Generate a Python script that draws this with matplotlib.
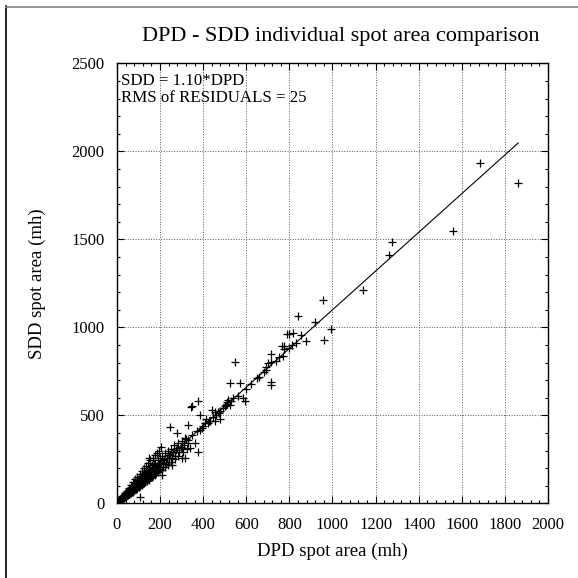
import matplotlib
matplotlib.use("Agg")
import matplotlib.pyplot as plt
from matplotlib.lines import Line2D
from matplotlib.ticker import MultipleLocator

plt.rcParams['font.family'] = ['Liberation Serif', 'DejaVu Serif']

# DPD spot area vs SDD spot area (mh)
dpd = [2, 3, 4, 5, 5, 6, 7, 8, 8, 9, 10, 10, 11, 12, 12, 13, 14, 15, 15, 16,
       17, 18, 18, 19, 20, 20, 21, 22, 22, 23, 24, 25, 25, 26, 27, 28, 29, 30, 30, 31,
       32, 33, 34, 35, 35, 36, 37, 38, 39, 40, 40, 41, 42, 43, 44, 45, 46, 47, 48, 49,
       50, 50, 52, 53, 54, 55, 56, 57, 58, 59, 60, 61, 62, 63, 64, 65, 66, 67, 68, 69,
       70, 71, 72, 73, 74, 75, 76, 77, 78, 79, 80, 81, 82, 83, 84, 85, 86, 87, 88, 89,
       90, 91, 92, 93, 94, 95, 96, 97, 98, 100, 100, 102, 104, 105, 106, 108, 109, 110, 112, 114,
       115, 117, 118, 120, 122, 124, 125, 127, 128, 130, 132, 134, 136, 138, 140, 142, 144, 146, 148, 150,
       152, 155, 157, 160, 162, 165, 168, 170, 173, 176, 178, 180, 184, 188, 190, 194, 198, 200, 205, 210,
       213, 218, 222, 226, 230, 235, 240, 245, 250, 255, 260, 265, 270, 275, 282, 288, 295, 300, 310, 320,
       330,
       107, 207, 192, 215, 150, 254, 254, 300, 316, 300, 339, 377, 362, 316, 331, 277, 385, 331, 246, 413,
       455, 478, 440, 455, 475, 385, 347, 344, 377, 517, 509, 524, 586, 594, 524, 571, 548, 648, 715, 715,
       690, 702, 690, 715, 713, 764, 776, 776, 769, 787, 799, 818, 852, 877, 962, 993, 919, 841, 957, 1143,
       1261, 1276, 1561, 1684, 1859,
       400, 420, 430, 445, 460, 470, 490, 500, 510, 530, 560, 600, 620, 660, 680, 740, 750, 800, 810, 830,
       15, 25, 35, 45, 55, 65, 75, 85, 95, 105, 115, 125, 135, 145, 155, 165, 175, 185, 195, 205,
       30, 42, 58, 72, 88, 102, 118, 132, 148, 162, 178, 192, 208, 222, 238, 252, 268, 285, 305, 325,
       60, 80, 100, 120, 140, 160, 180, 200, 220, 240, 260, 280, 350, 370, 395, 410, 425, 480, 505, 540]
sdd = [3, 4, 4, 6, 7, 6, 9, 8, 11, 10, 12, 14, 11, 15, 18, 14, 17, 16, 21, 19,
       22, 18, 25, 23, 21, 28, 26, 24, 31, 27, 29, 26, 35, 32, 30, 36, 33, 31, 42, 37,
       35, 44, 38, 36, 48, 42, 45, 40, 52, 46, 38, 55, 48, 44, 58, 50, 47, 60, 54, 51,
       64, 45, 58, 68, 55, 62, 72, 54, 65, 75, 60, 70, 80, 58, 72, 85, 66, 76, 90, 64,
       78, 95, 70, 82, 98, 68, 86, 100, 75, 90, 105, 78, 95, 110, 85, 100, 115, 80, 104, 118,
       92, 108, 125, 88, 112, 130, 98, 118, 135, 95, 122, 140, 105, 128, 148, 100, 132, 150, 112, 138,
       158, 108, 142, 165, 120, 148, 170, 118, 152, 175, 130, 158, 182, 128, 165, 190, 142, 170, 198, 140,
       176, 205, 150, 185, 215, 160, 195, 225, 168, 205, 232, 175, 212, 245, 185, 222, 260, 195, 235, 270,
       205, 245, 285, 225, 260, 295, 235, 275, 310, 255, 290, 330, 268, 305, 345, 290, 320, 355, 330, 365,
       345,
       38, 161, 208, 227, 256, 256, 218, 256, 256, 313, 313, 293, 341, 370, 360, 398, 417, 445, 436, 478,
       470, 478, 530, 521, 512, 502, 553, 549, 582, 587, 578, 559, 597, 583, 682, 682, 805, 711, 691, 673,
       758, 796, 777, 805, 849, 894, 894, 875, 837, 962, 962, 966, 955, 921, 928, 989, 1032, 1067, 1154, 1213,
       1413, 1485, 1546, 1936, 1819,
       440, 455, 470, 490, 500, 520, 540, 555, 565, 580, 610, 650, 680, 720, 745, 810, 830, 880, 900, 910,
       26, 40, 58, 72, 88, 104, 120, 136, 152, 166, 182, 198, 212, 228, 244, 258, 272, 288, 300, 318,
       30, 40, 52, 66, 80, 94, 106, 120, 134, 148, 162, 176, 190, 204, 220, 234, 250, 268, 290, 310,
       78, 100, 122, 144, 162, 184, 206, 228, 250, 272, 292, 314, 390, 410, 430, 455, 470, 525, 560, 600]

slope = 1.10
fit_x = [0, 1862]
fit_y = [slope * v for v in fit_x]

fig = plt.figure(figsize=(5.78, 5.78), dpi=100)
ax = fig.add_axes([0.2024, 0.1292, 0.7457, 0.761])

ax.plot(dpd, sdd, '+', color='black', markersize=6, markeredgewidth=0.9)
ax.plot(fit_x, fit_y, color='black', linewidth=0.8)

ax.set_xlim(0, 2000)
ax.set_ylim(0, 2500)
ax.xaxis.set_major_locator(MultipleLocator(200))
ax.xaxis.set_minor_locator(MultipleLocator(40))
ax.yaxis.set_major_locator(MultipleLocator(500))
ax.yaxis.set_minor_locator(MultipleLocator(100))
ax.tick_params(which='both', direction='in', top=True, right=True, labelsize=12)
ax.tick_params(which='major', length=5, width=0.8)
ax.tick_params(which='minor', length=2.5, width=0.8)
ax.tick_params(axis='x', pad=10)
ax.tick_params(axis='y', pad=9)
ax.grid(True, which='major', linestyle=':', color='#555555', linewidth=0.7)
for s in ax.spines.values():
    s.set_linewidth(1.0)

ax.set_title('DPD - SDD individual spot area comparison', fontsize=16, pad=16, x=0.52)
ax.set_xlabel('DPD spot area (mh)', fontsize=13.5, labelpad=7)
ax.set_ylabel('SDD spot area (mh)', fontsize=13.5, labelpad=18)

ax.text(0.01, 0.978, 'SDD = 1.10*DPD\nRMS of RESIDUALS = 25', transform=ax.transAxes,
        ha='left', va='top', fontsize=12.2, linespacing=1.05)

# page frame lines
fig.add_artist(Line2D([6 / 578, 6 / 578], [0, 1 - 6 / 578], color='black', linewidth=1.2))
fig.add_artist(Line2D([6 / 578, 1], [1 - 7 / 578, 1 - 7 / 578], color='grey', linewidth=1.2))

fig.savefig('out.png', dpi=100)
